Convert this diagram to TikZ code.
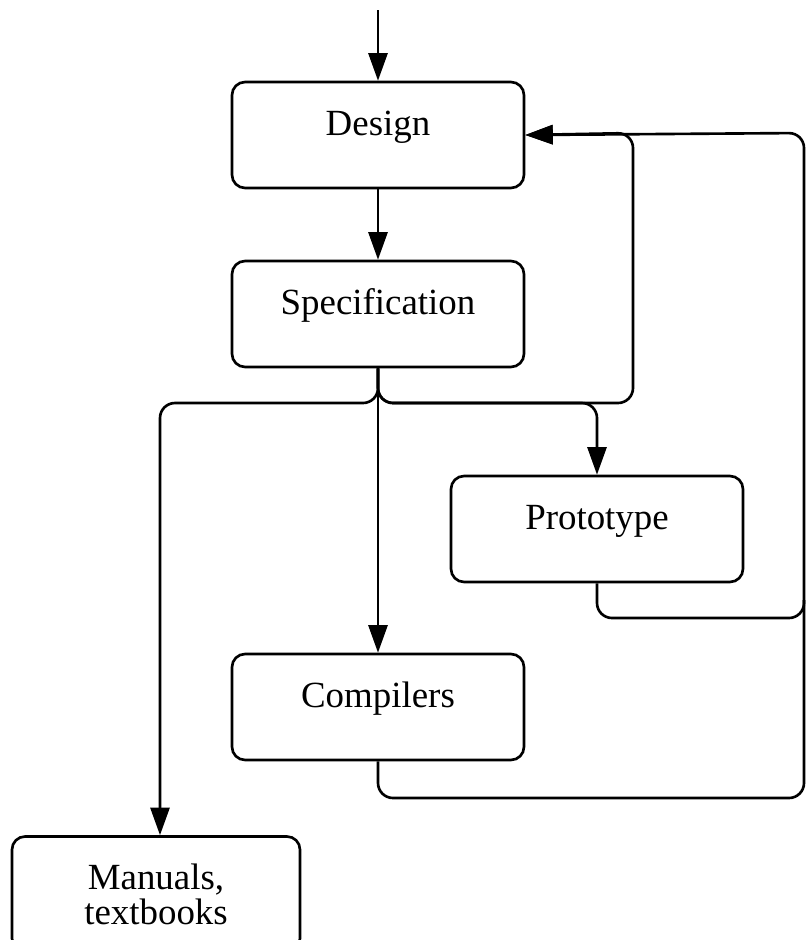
\documentclass[tikz,border=0pt]{standalone}
\usepackage{fontspec}
\setmainfont{Liberation Serif}
\usetikzlibrary{arrows.meta}

\begin{document}
\begin{tikzpicture}[
  x=0.02cm,y=-0.02cm,
  font=\fontsize{21}{20}\selectfont,
  box/.style={draw,line width=1.5pt,rounded corners=0.26cm,
              minimum width=5.84cm,minimum height=2.12cm,inner sep=0pt,
              text height=0.33cm,text depth=0.33cm,align=center},
  flow/.style={-{Triangle[length=5.5mm,width=3.8mm]},line width=1.5pt,rounded corners=0.3cm},
  loop/.style={line width=1.5pt,rounded corners=0.3cm}
]
\useasboundingbox (0,0) rectangle (806,940);

%------ boxes ----------------------------------------------------------------
\node[box] (des)   at (378,135) {Design};
\node[box] (spec)  at (378,314) {Specification};
\node[box] (proto) at (597,529) {Prototype};
\node[box] (comp)  at (378,707) {Compilers};
\node[box,minimum width=5.76cm,minimum height=2.3cm,text height=,text depth=]
      (man) at (156,894) {Manuals,\\textbooks};

%------ corners of the routes ------------------------------------------------
\coordinate (in)    at (378,10);
\coordinate (fork)  at (378,403);
\coordinate (back)  at (633,133);
\coordinate (edge)  at (804,133);

%------ main line ------------------------------------------------------------
\draw[flow] (in) -- (des);
\draw[flow] (des) -- (spec);
\draw[flow] (spec) -- (comp);

%------ branches off the specification ---------------------------------------
\draw[flow] (spec.south) |- (160,403) -- (man.north -| 160,0);
\draw[flow] (spec.south) |- (597,403) -- (proto.north);
\draw[flow] (spec.south) |- (633,403) -- (back) -- (des.east);

%------ feedback into the design ---------------------------------------------
\draw[flow] (proto.south) |- (804,618) -- (edge) -- (des.east);
\draw[loop] (comp.south) |- (804,798) -- (804,600);
\end{tikzpicture}
\end{document}
